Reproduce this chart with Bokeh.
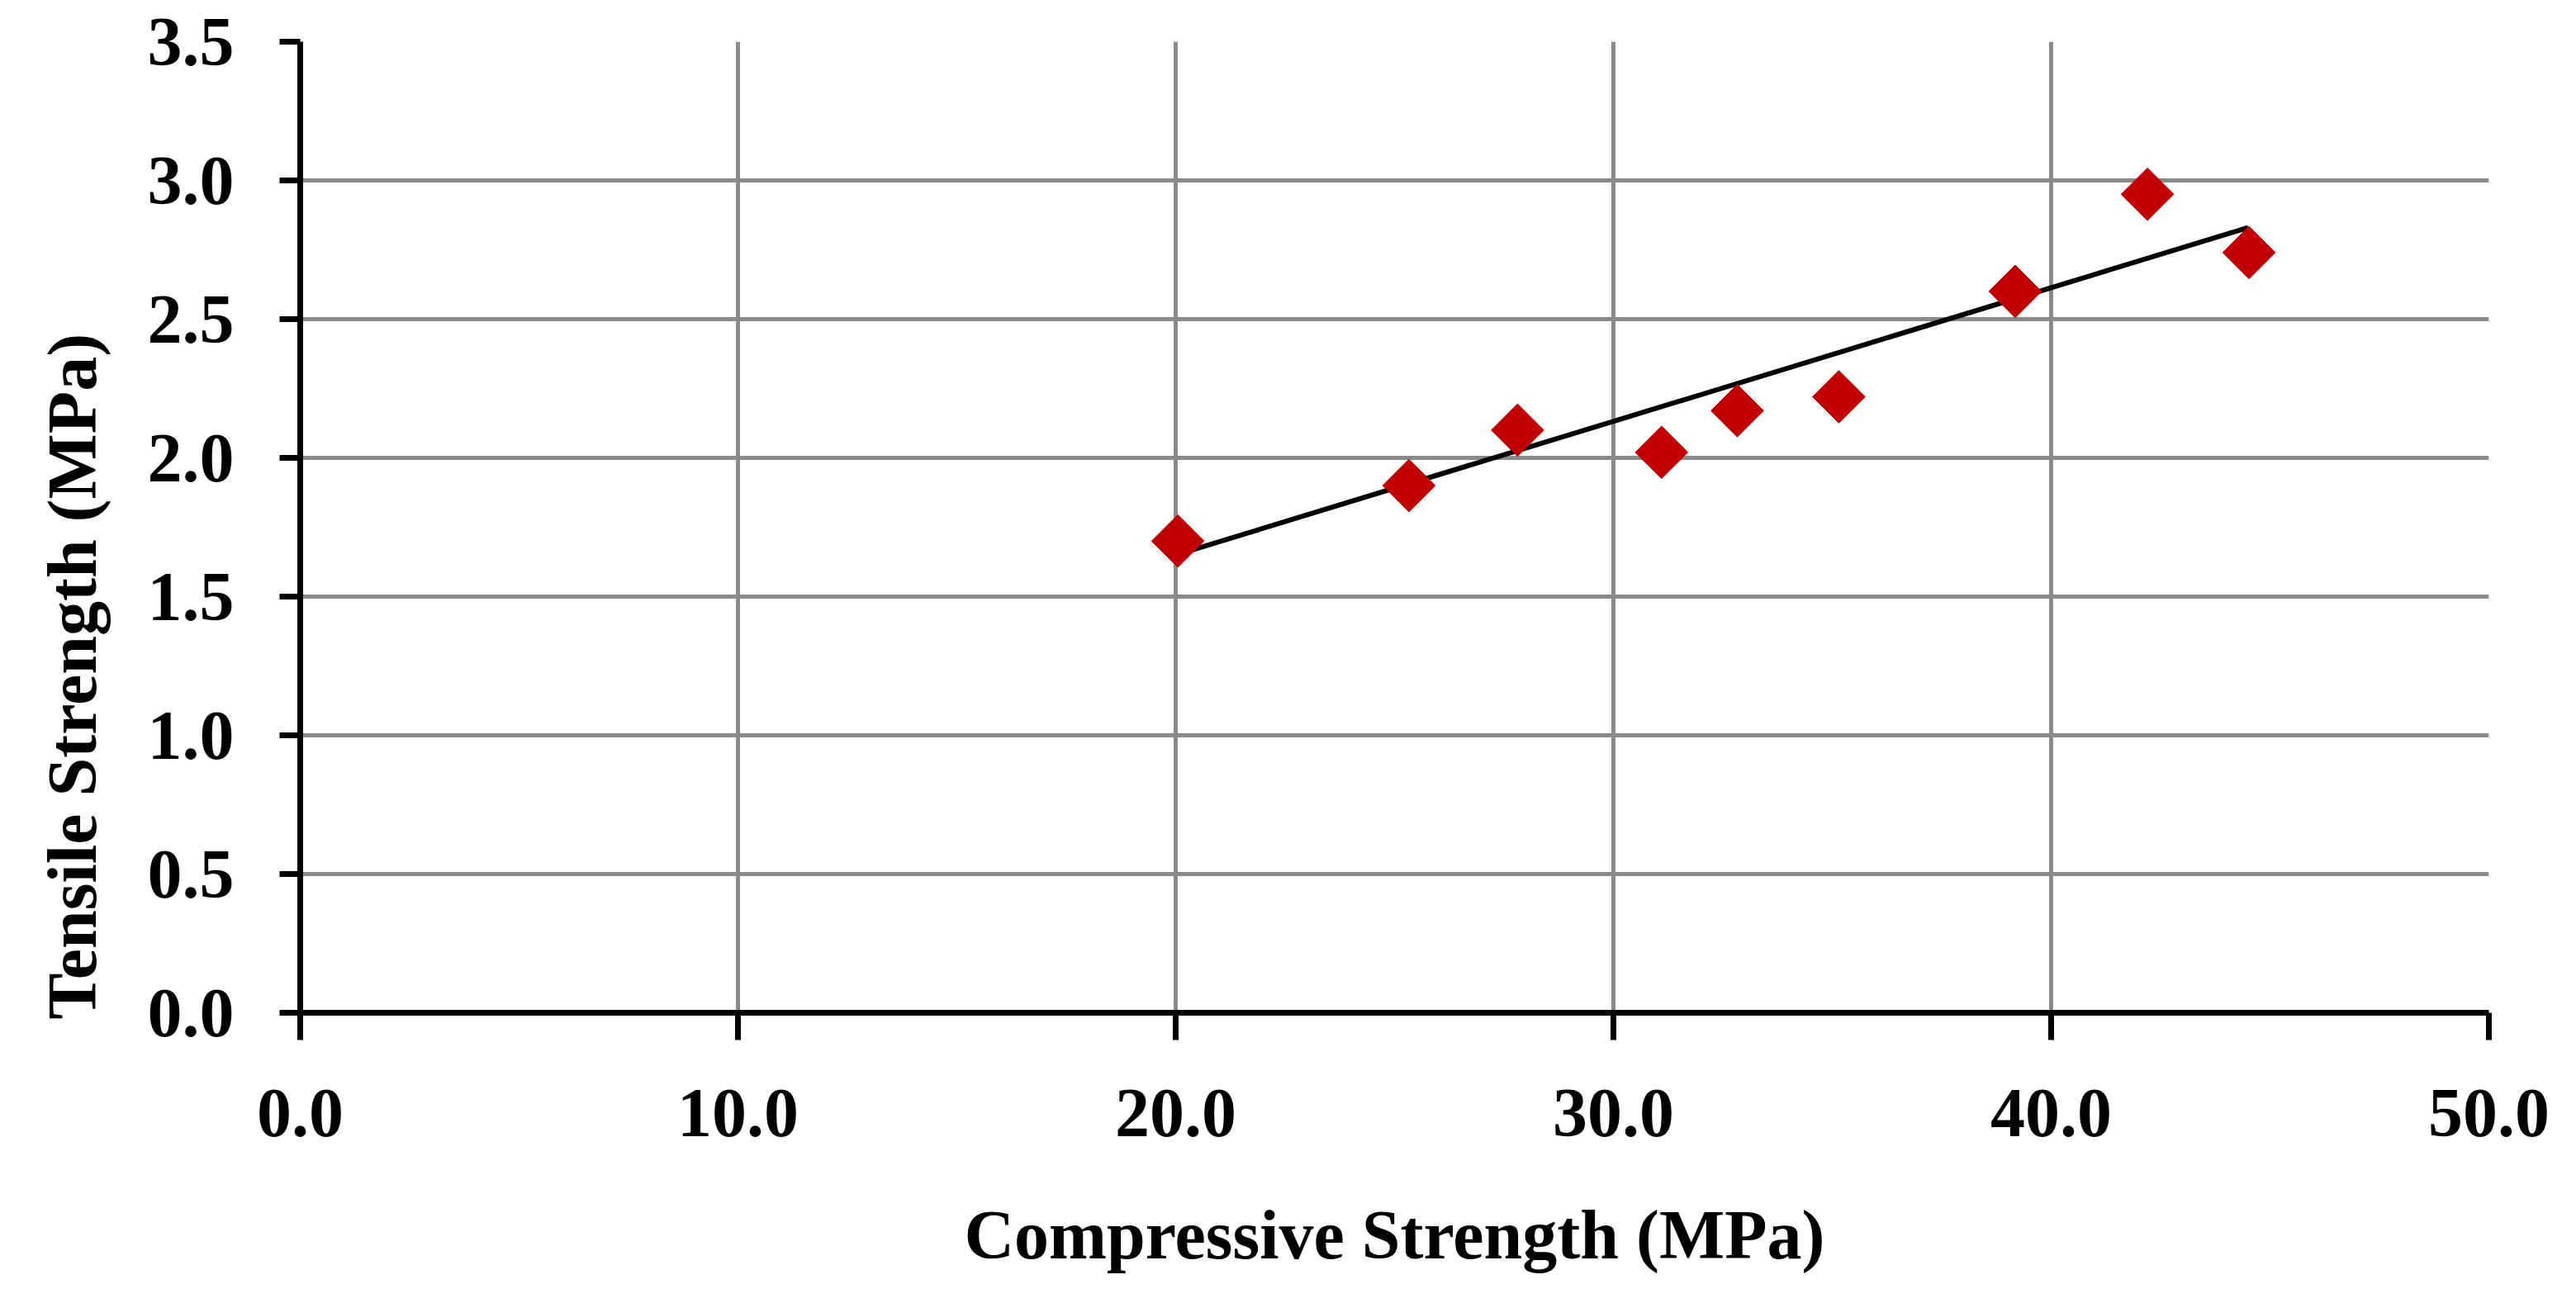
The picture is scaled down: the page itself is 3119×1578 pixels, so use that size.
import math
from bokeh.plotting import figure
from bokeh.models import NumeralTickFormatter, FixedTicker, Range1d, Title
from bokeh.embed import file_html
from bokeh.resources import INLINE

# data
compressive = [20.05, 25.33, 27.81, 31.10, 32.83, 35.15, 39.18, 42.20, 44.52]
tensile = [1.70, 1.90, 2.10, 2.02, 2.17, 2.22, 2.60, 2.95, 2.74]
trend_x = [20.0, 44.5]
trend_y = [1.65, 2.83]
x_ticks = [0, 10, 20, 30, 40, 50]
y_ticks = [0, 0.5, 1.0, 1.5, 2.0, 2.5, 3.0, 3.5]
x_title = "Compressive Strength (MPa)"
y_title = "Tensile Strength (MPa)"

FONT = "Liberation Serif"

p = figure(width=3103, height=1562, output_backend="svg", toolbar_location=None,
           x_range=Range1d(0, 50), y_range=Range1d(0, 3.5),
           min_border_left=362, min_border_right=90, min_border_top=50, min_border_bottom=336)
p.outline_line_color = None
p.background_fill_color = "white"
p.border_fill_color = "white"

for ax in (p.xaxis[0], p.yaxis[0]):
    ax.axis_line_color = "black"
    ax.axis_line_width = 7
    ax.major_tick_line_color = "black"
    ax.major_tick_line_width = 7
    ax.major_tick_in = 0
    ax.minor_tick_line_color = None
    ax.major_label_text_font = FONT
    ax.major_label_text_font_style = "bold"
    ax.major_label_text_font_size = "84px"
    ax.major_label_text_color = "black"
    ax.formatter = NumeralTickFormatter(format="0.0")

p.xaxis[0].ticker = FixedTicker(ticks=x_ticks)
p.yaxis[0].ticker = FixedTicker(ticks=y_ticks)
p.xaxis[0].major_tick_out = 33
p.yaxis[0].major_tick_out = 25
p.xaxis[0].major_label_standoff = 60
p.yaxis[0].major_label_standoff = 55

p.xaxis[0].axis_label = x_title
p.xaxis[0].axis_label_text_font = FONT
p.xaxis[0].axis_label_text_font_style = "bold"
p.xaxis[0].axis_label_text_font_size = "84px"
p.xaxis[0].axis_label_text_color = "black"
p.xaxis[0].axis_label_standoff = 70

# y title as a left-side Title, starting near the bottom of the plot like the reference
ytitle = Title(text=y_title, align="left", vertical_align="top", offset=-8, standoff=80,
               text_font=FONT, text_font_style="bold", text_font_size="84px",
               text_color="black")
p.add_layout(ytitle, "left")

for g in (p.xgrid[0], p.ygrid[0]):
    g.grid_line_color = "#8a8a8a"
    g.grid_line_width = 5
p.xgrid[0].ticker = FixedTicker(ticks=x_ticks)
p.ygrid[0].ticker = FixedTicker(ticks=y_ticks)

p.line(trend_x, trend_y, line_color="black", line_width=6)
p.scatter(compressive, tensile, marker="square", size=45, angle=math.pi / 4,
          fill_color="#c00000", line_color="#c00000", line_width=1)

open("out.html", "w").write(file_html(p, INLINE))
